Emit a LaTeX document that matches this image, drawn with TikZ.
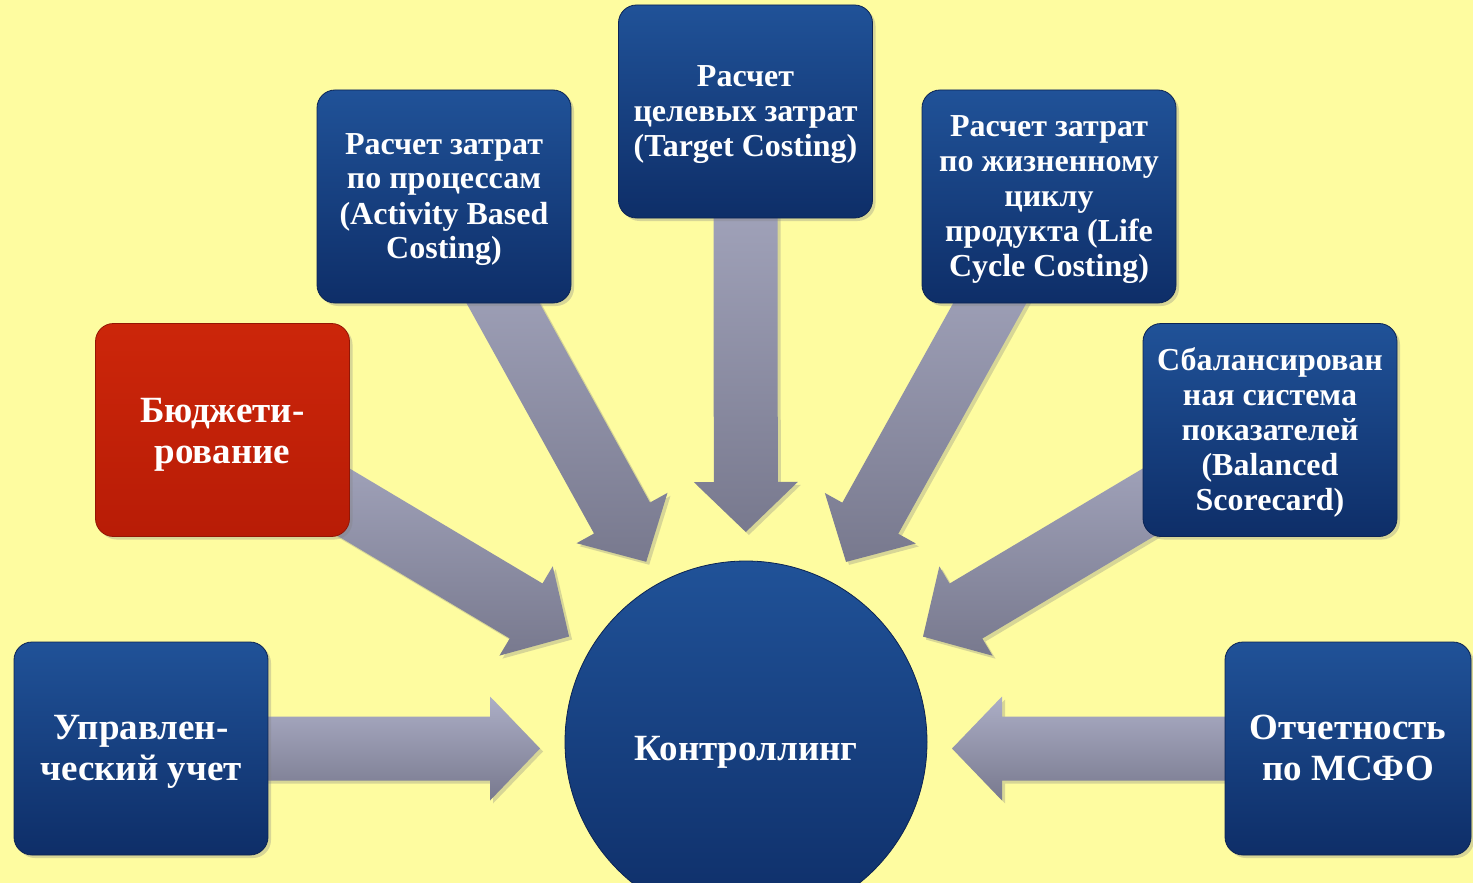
\documentclass[tikz,border=0pt]{standalone}
\usepackage{fontspec}
\setmainfont{Liberation Serif}
\usetikzlibrary{calc,shadows}
\definecolor{bgyellow}{RGB}{254,252,160}
\definecolor{boxtop}{RGB}{32,82,152}
\definecolor{boxbot}{RGB}{14,46,104}
\definecolor{boxedge}{RGB}{12,36,84}
\definecolor{redtop}{RGB}{204,38,10}
\definecolor{redbot}{RGB}{184,28,6}
\definecolor{arrtop}{RGB}{172,174,198}
\definecolor{arrbot}{RGB}{120,121,142}
\pgfdeclarelayer{bg}
\pgfdeclarelayer{arr}
\pgfsetlayers{bg,arr,main}
\newcommand{\boxtext}[2][1.5pt]{\raisebox{-#1}[\height][\depth]{\begin{tabular}{@{}c@{}}#2\end{tabular}}}
\tikzset{
  box/.style={rectangle, rounded corners=9pt, minimum width=127pt, minimum height=106.5pt,
    inner sep=2pt, text=white,
    font=\bfseries\fontsize{16}{17.5}\selectfont,
    top color=boxtop, bottom color=boxbot, draw=boxedge, line width=0.4pt,
    drop shadow={shadow xshift=1.5pt, shadow yshift=-1.5pt, opacity=0.3}},
  bigbox/.style={box, font=\bfseries\fontsize{18.5}{20.5}\selectfont},
  redbox/.style={bigbox, top color=redtop, bottom color=redbot, draw=redbot!80!black},
  hub/.style={circle, minimum size=181pt, inner sep=0pt, text=white,
    font=\bfseries\fontsize{18.5}{20.5}\selectfont,
    top color=boxtop, bottom color=boxbot, draw=boxedge, line width=0.4pt},
  blockarr/.style={top color=arrtop, bottom color=arrbot,
    drop shadow={shadow xshift=1.5pt, shadow yshift=-1.5pt, opacity=0.3}}
}
% block arrow from node #1 to coordinate #2
\newcommand{\blockarrow}[2]{%
  \coordinate (ba-h) at ($(#2)!25pt!(#1)$);
  \path[blockarr] ($(#1)!16pt!90:(#2)$) -- ($(ba-h)!16pt!90:(#2)$) -- ($(ba-h)!26pt!90:(#2)$)
    -- (#2) -- ($(ba-h)!26pt!-90:(#2)$) -- ($(ba-h)!16pt!-90:(#2)$) -- ($(#1)!16pt!-90:(#2)$) -- cycle;
}
\begin{document}
\begin{tikzpicture}[x=0.5pt,y=-0.5pt]
\clip (0,0) rectangle (1473,883);
\useasboundingbox (0,0) rectangle (1473,883);
\begin{pgfonlayer}{bg}
  \fill[bgyellow] (0,0) rectangle (1473,883);
\end{pgfonlayer}

\node[hub] (ctrl) at (746,742) {\raisebox{-5pt}[\height][\depth]{Контроллинг}};

\node[bigbox] (upr) at (141,748.5) {\boxtext{Управлен-\\ческий учет}};
\node[redbox] (bud) at (222.5,430) {\boxtext[2.5pt]{Бюджети-\\рование}};
\node[box] (abc) at (444,196.5) {\boxtext{Расчет затрат\\по процессам\\(Activity Based\\Costing)}};
\node[box] (tgt) at (745.5,111.5) {\boxtext{Расчет\\целевых затрат\\(Target Costing)}};
\node[box] (lcc) at (1049,196.5) {\boxtext{Расчет затрат\\по жизненному\\циклу\\продукта (Life\\Cycle Costing)}};
\node[box] (bsc) at (1270,430) {\boxtext{Сбалансирован\\ная система\\показателей\\(Balanced\\Scorecard)}};
\node[bigbox, minimum width=123pt] (ifrs) at (1348,748.5) {\boxtext{Отчетность\\по МСФО}};

\coordinate (t-upr) at (540,748.5);
\coordinate (t-ifrs) at (952,748.5);
\coordinate (t-bud) at ($(ctrl.center)!103pt!(bud.center)$);
\coordinate (t-abc) at ($(ctrl.center)!103pt!(abc.center)$);
\coordinate (t-tgt) at ($(ctrl.center)!105pt!(tgt.center)$);
\coordinate (t-lcc) at ($(ctrl.center)!103pt!(lcc.center)$);
\coordinate (t-bsc) at ($(ctrl.center)!103pt!(bsc.center)$);

\begin{pgfonlayer}{arr}
  \blockarrow{upr.center}{t-upr}
  \blockarrow{ifrs.center}{t-ifrs}
  \blockarrow{bud.center}{t-bud}
  \blockarrow{abc.center}{t-abc}
  \blockarrow{tgt.center}{t-tgt}
  \blockarrow{lcc.center}{t-lcc}
  \blockarrow{bsc.center}{t-bsc}
\end{pgfonlayer}
\end{tikzpicture}
\end{document}
